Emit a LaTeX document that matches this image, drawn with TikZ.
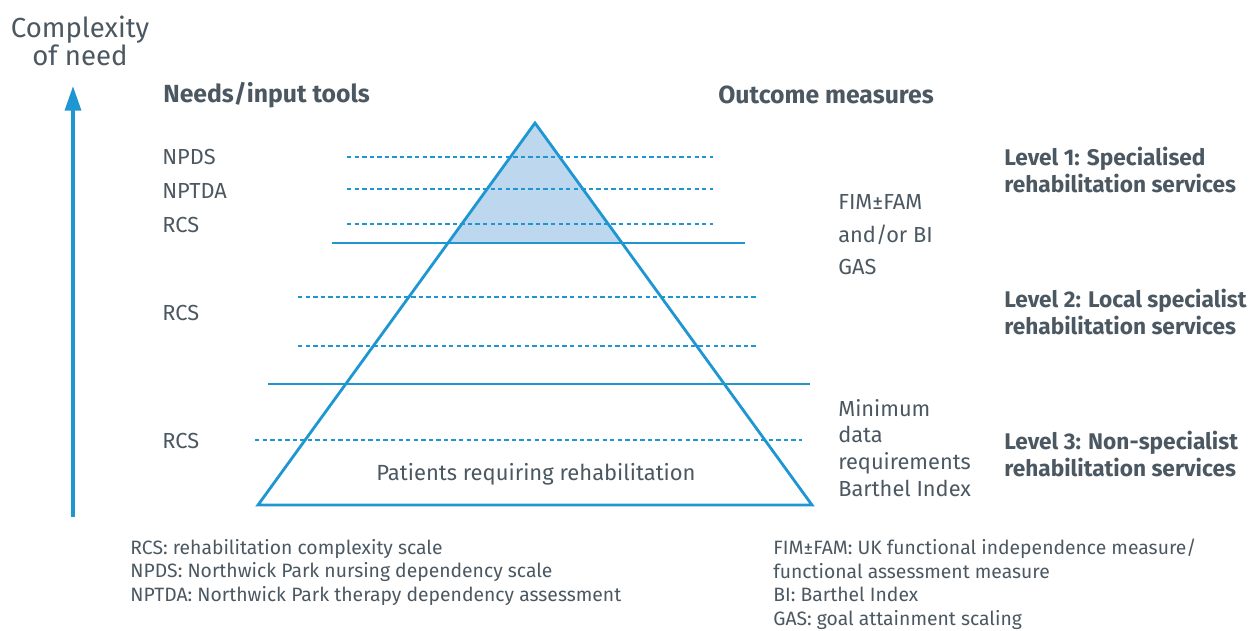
\documentclass[tikz,border=0pt]{standalone}
\usepackage{fontspec}
\setmainfont{Fira Sans}
\usetikzlibrary{arrows.meta,positioning}
\definecolor{pyrblue}{RGB}{30,150,210}
\definecolor{pyrfill}{RGB}{189,215,238}
\definecolor{txtgrey}{RGB}{75,88,98}

\begin{document}
\begin{tikzpicture}[x=0.02cm,y=-0.02cm,
    every node/.style={text=txtgrey,inner sep=0pt},
    lbl/.style={anchor=west,font=\fontsize{12.4}{14}\selectfont},
    head/.style={anchor=west,font=\fontsize{14.1}{15}\selectfont\bfseries},
    lvl/.style={anchor=west,align=left,font=\fontsize{12.9}{15.9}\selectfont\bfseries},
    note/.style={anchor=north west,align=left,font=\fontsize{11}{13.3}\selectfont},
    band/.style={draw=pyrblue,line width=1.6pt},
    guide/.style={draw=pyrblue,line width=0.7pt,dash pattern=on 2.5pt off 1.8pt}]
  \useasboundingbox (0,0) rectangle (1250,630);

  % pyramid
  \coordinate (apex) at (535,123);
  \coordinate (bl) at (258,505);
  \coordinate (br) at (812,505);
  \fill[pyrfill] (apex) -- (448,243) -- (622,243) -- cycle;
  \foreach \y/\xa/\xb in {157/347/713,189/347/713,224/347/713,
                          297/298/757,346/298/757,440/255/802}
    \draw[guide] (\xa,\y) -- (\xb,\y);
  \draw[pyrblue,line width=1.6pt,line join=miter] (apex) -- (bl) -- (br) -- cycle;
  \draw[band] (332,243) coordinate (l1w) -- (745,243) coordinate (l1e);
  \draw[band] (268,384) coordinate (l2w) -- (810,384) coordinate (l2e);

  % axis
  \coordinate (low) at (73,517);
  \coordinate (high) at (73,86);
  \draw[pyrblue,line width=2.2pt,-{Triangle[length=14pt,width=9pt]}] (low) -- (high);
  \node (axis) [align=center,font=\fontsize{15.7}{15.9}\selectfont] at (80,41) {Complexity\\of need};

  % headings
  \node (needs) [head] at (163,95) {Needs/input tools};
  \node (outcome) [head] at (718,95) {Outcome measures};

  % input tools
  \node (npds) [lbl] at (162,157) {NPDS};
  \node (nptda) [lbl] at (162,191) {NPTDA};
  \node (rcsa) [lbl] at (162,225) {RCS};
  \node (rcsb) [lbl] at (162,313) {RCS};
  \node (rcsc) [lbl] at (162,441) {RCS};

  % outcome measures
  \node (fim) [lbl,align=left,font=\fontsize{12.4}{18.5}\selectfont] at (838,235) {FIM±FAM\\and/or BI\\GAS};
  \node (mds) [lbl,align=left,font=\fontsize{12.4}{15.3}\selectfont] at (838,448) {Minimum\\data\\requirements\\Barthel Index};
  \node (base) [font=\fontsize{12.5}{14}\selectfont] at (536,474) {Patients requiring rehabilitation};

  % levels
  \node (lvla) [lvl] at (1004,170) {Level 1: Specialised\\rehabilitation services};
  \node (lvlb) [lvl] at (1004,312) {Level 2: Local specialist\\rehabilitation services};
  \node (lvlc) [lvl] at (1004,454) {Level 3: Non-specialist\\rehabilitation services};

  % abbreviations
  \node (keya) [note] at (130,539) {RCS: rehabilitation complexity scale\\NPDS: Northwick Park nursing dependency scale\\NPTDA: Northwick Park therapy dependency assessment};
  \node (keyb) [note] at (773,539) {FIM±FAM: UK functional independence measure/\\functional assessment measure\\BI: Barthel Index\\GAS: goal attainment scaling};
\end{tikzpicture}
\end{document}
